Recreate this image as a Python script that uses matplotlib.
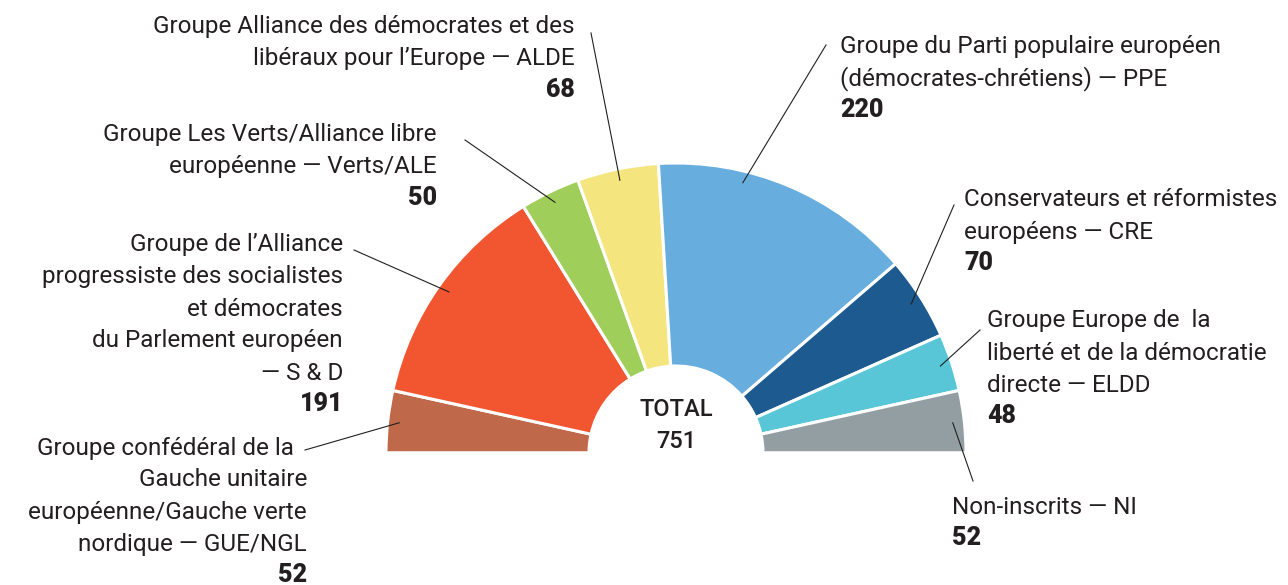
import numpy as np
import matplotlib.pyplot as plt

plt.rcParams['font.family'] = ['Roboto', 'DejaVu Sans']

# seats per political group, left to right around the hemicycle
groups = ['GUE/NGL', 'S & D', 'Verts/ALE', 'ALDE', 'PPE', 'CRE', 'ELDD', 'NI']
seats = [52, 191, 50, 68, 220, 70, 48, 52]
names = [
    'Groupe confédéral de la\nGauche unitaire\neuropéenne/Gauche verte\nnordique — GUE/NGL',
    'Groupe de l’Alliance\nprogressiste des socialistes\net démocrates\ndu Parlement européen\n— S & D',
    'Groupe Les Verts/Alliance libre\neuropéenne — Verts/ALE',
    'Groupe Alliance des démocrates et des\nlibéraux pour l’Europe — ALDE',
    'Groupe du Parti populaire européen\n(démocrates-chrétiens) — PPE',
    'Conservateurs et réformistes\neuropéens — CRE',
    'Groupe Europe de  la\nliberté et de la démocratie\ndirecte — ELDD',
    'Non-inscrits — NI',
]
colors = ['#BF694A', '#F15630', '#A0CE5A', '#F5E57F', '#67AEDE', '#1C5A8F', '#58C6D6', '#929EA1']

total = sum(seats)

W, H = 1288, 585
fig = plt.figure(figsize=(W / 100, H / 100), dpi=100)
ax = fig.add_axes([0, 0, 1, 1])

cx, cy = 676, H - 453
R, r_in = 290, 87

ax.pie(seats + [total], colors=colors + ['none'], startangle=180, counterclock=False,
       center=(cx, cy), radius=R,
       wedgeprops=dict(width=R - r_in, edgecolor='white', linewidth=2.2))
ax.set_xlim(0, W)
ax.set_ylim(0, H)
ax.set_aspect('equal')
ax.axis('off')

# label layout: (text x, top line y in pixels, alignment, leader start, anchor angle shift)
layout = {
    'GUE/NGL': (307, 448, 'right', (305, 450), 0),
    'S & D': (343, 245, 'right', (354, 250), 0),
    'Verts/ALE': (437, 135, 'right', (465, 140), 0),
    'ALDE': (575, 27, 'right', (591, 33), 0),
    'PPE': (840, 47, 'left', (826, 45), 9),
    'CRE': (964, 200, 'left', (954, 205), 0),
    'ELDD': (987, 321, 'left', (980, 330), 0),
    'NI': (952, 507, 'left', (973, 481), 0),
}

line_h = 32
cum = np.cumsum([0] + seats)
for i, g in enumerate(groups):
    tx, ty, ha, (lx, ly), shift = layout[g]
    lines = names[i].split('\n')
    for k, s in enumerate(lines):
        x = tx - 13 if (g == 'GUE/NGL' and k == 0) else tx
        ax.text(x, H - (ty + k * line_h), s, ha=ha, va='center', fontsize=17.5,
                color='#231F20')
    ax.text(tx, H - (ty + len(lines) * line_h - 1), str(seats[i]), ha=ha, va='center',
            fontsize=18, fontweight='heavy', color='#231F20')
    mid = 180 - (cum[i] + seats[i] / 2) / total * 180 + shift
    rr = R * 0.96
    ex = cx + rr * np.cos(np.radians(mid))
    ey = cy + rr * np.sin(np.radians(mid))
    ax.plot([lx, ex], [H - ly, ey], color='#231F20', lw=0.8)

ax.text(cx, H - 410, 'TOTAL', ha='center', va='center', fontsize=17, color='#231F20',
        fontweight='medium')
ax.text(cx, H - 441, str(total), ha='center', va='center', fontsize=17, color='#231F20',
        fontweight='medium')

fig.savefig('out.png', dpi=100)
